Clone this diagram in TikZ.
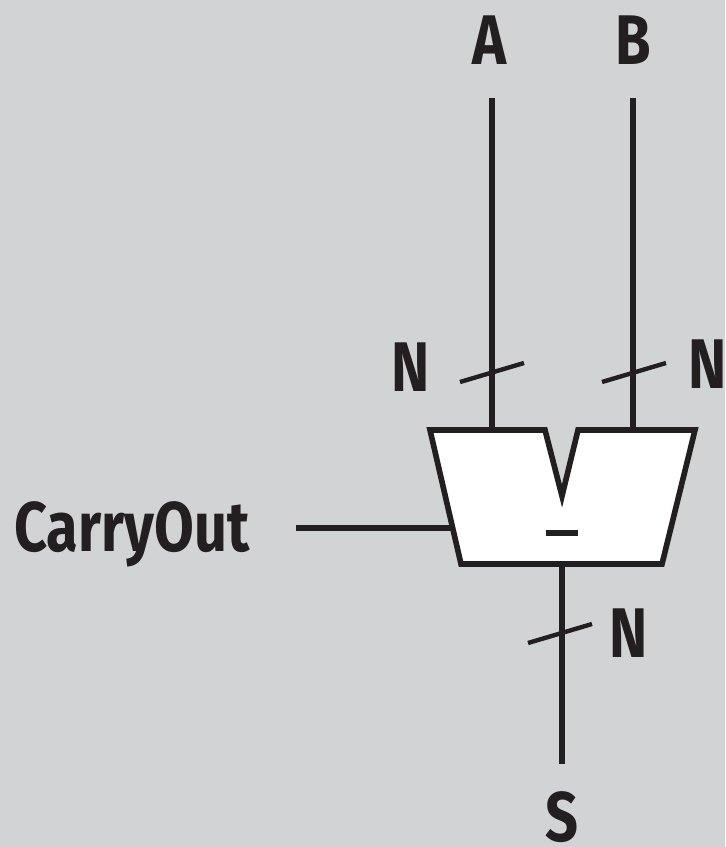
\documentclass[tikz,border=0pt]{standalone}
\usepackage{fontspec}
\setmainfont{Fira Sans}[BoldFont={Fira Sans Bold}]
\definecolor{panelgray}{RGB}{209,211,212}
\definecolor{inkblack}{RGB}{35,31,32}
\tikzset{
  wire/.style={draw=inkblack, line width=3pt},
  busmark/.style={draw=inkblack, line width=2.5pt},
  biglabel/.style={text=inkblack, inner sep=0pt, font=\bfseries\fontsize{40}{40}\selectfont, xscale=0.82},
}
\begin{document}
\begin{tikzpicture}[x=0.02cm, y=-0.02cm]
\fill [panelgray] (0,0) rectangle (725,847);
\useasboundingbox (0,0) rectangle (725,847);
% subtractor body
\draw [inkblack, line width=3.2pt, fill=white, line join=miter] (430,430) -- (545,430) -- (562,496) -- (578,430) -- (695,430) -- (662,564) -- (461,564) -- cycle;
\coordinate (ain) at (492,430);
\coordinate (bin) at (633,430);
\coordinate (cout) at (452,528);
\coordinate (sout) at (562,564);
\node [biglabel] (lA) at (489,40) {A};
\node [biglabel] (lB) at (633,40) {B};
\node [biglabel] (lS) at (562,817) {S};
\node [biglabel] (lC) at (132,534) {CarryOut};
\node [biglabel] (nA) at (411,367) {N};
\node [biglabel] (nB) at (708,364) {N};
\node [biglabel] (nS) at (629,633) {N};
\coordinate (atop) at (492,98);
\coordinate (btop) at (633,98);
\coordinate (sbot) at (562,764);
\coordinate (cleft) at (296,528);
\draw [wire] (atop) -- (ain);
\draw [wire] (btop) -- (bin);
\draw [wire] (cleft) -- (cout);
\draw [wire] (sout) -- (sbot);
\draw [busmark] (460,382) -- (524,363);
\draw [busmark] (602,382) -- (666,363);
\draw [busmark] (528,643) -- (592,624);
% minus sign
\draw [inkblack, line width=3.2pt] (546,533) -- (578,533);
\end{tikzpicture}
\end{document}
